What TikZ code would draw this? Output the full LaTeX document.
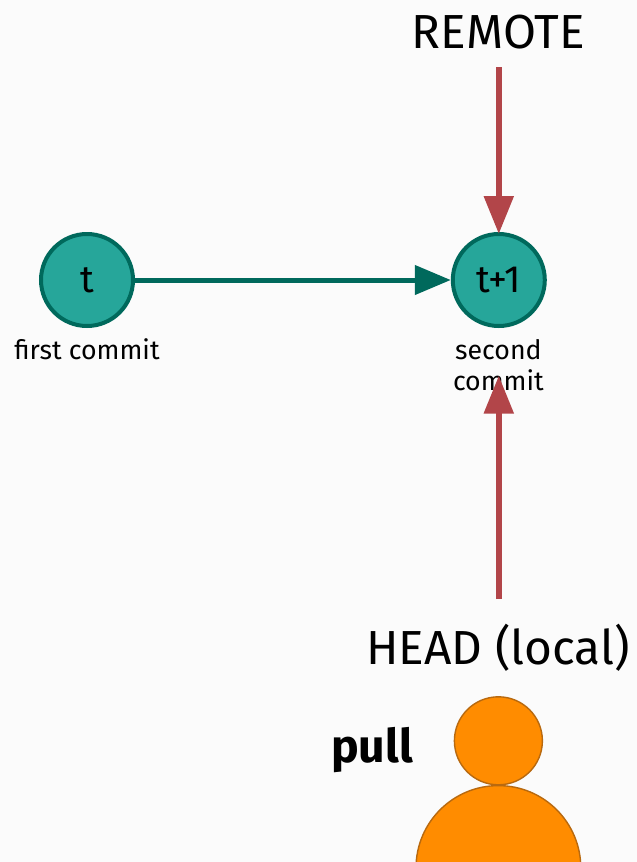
\documentclass[tikz,border=0pt]{standalone}
\usepackage{fontspec}
\setmainfont{Fira Sans}
\usetikzlibrary{arrows.meta}
\definecolor{pagebg}{HTML}{FBFBFB}
\definecolor{commitfill}{HTML}{26A69A}
\definecolor{commitline}{HTML}{00695C}
\definecolor{pullred}{HTML}{B24549}
\definecolor{userfill}{HTML}{FF8C00}
\definecolor{userline}{HTML}{B8690F}
\tikzset{
  commit/.style={draw=commitline, fill=commitfill, shape=circle, line width=0.1cm, minimum size=2.3cm, inner sep=0pt, font=\fontsize{27}{30}\selectfont},
  commitlabel/.style={font=\fontsize{19}{22}\selectfont, align=center, inner sep=0pt},
  biglabel/.style={font=\fontsize{34}{38}\selectfont, inner sep=0pt},
  parent/.style={draw=commitline, line width=0.125cm, -{Triangle[length=0.9cm, width=0.72cm]}},
  pullarrow/.style={draw=pullred, line width=0.15cm, -{Triangle[length=0.95cm, width=0.72cm]}},
  user/.style={draw=userline, fill=userfill, shape=circle, line width=0.035cm, inner sep=0pt}
}
\begin{document}
\begin{tikzpicture}
    \fill[pagebg] (0,0) rectangle (15.925,-21.55);
    \useasboundingbox (0,0) rectangle (15.925,-21.55);
    \node(first)[commit] at (2.175,-7) {t};
    \node(second)[commit] at (12.47,-7) {t+1};
    \node(firstlabel)[commitlabel] at (2.175,-8.72) {first commit};
    \node(secondlabel)[commitlabel] at (12.46,-9.12) {second\\commit};
    \node(remote)[biglabel] at (12.46,-0.8) {REMOTE};
    \node(head)[biglabel] at (12.45,-16.2) {HEAD (local)};
    \node(pull)[biglabel, font=\fontsize{33}{38}\selectfont\bfseries] at (9.3,-18.75) {pull};
    \coordinate(remoteend) at (12.47,-1.68);
    \coordinate(headend) at (12.47,-14.98);
    \coordinate(secondend) at (12.47,-9.39);
    \draw[parent] (first) -- (second);
    \draw[pullarrow, shorten >=-0.05cm] (remoteend) -- (second);
    \draw[pullarrow] (headend) -- (secondend);
    \clip (0,0) rectangle (15.925,-21.55);
    \node(userhead)[user, minimum size=2.2cm] at (12.46,-18.52) {};
    \node(userbody)[user, minimum size=4.12cm] at (12.46,-21.7) {};
\end{tikzpicture}
\end{document}
